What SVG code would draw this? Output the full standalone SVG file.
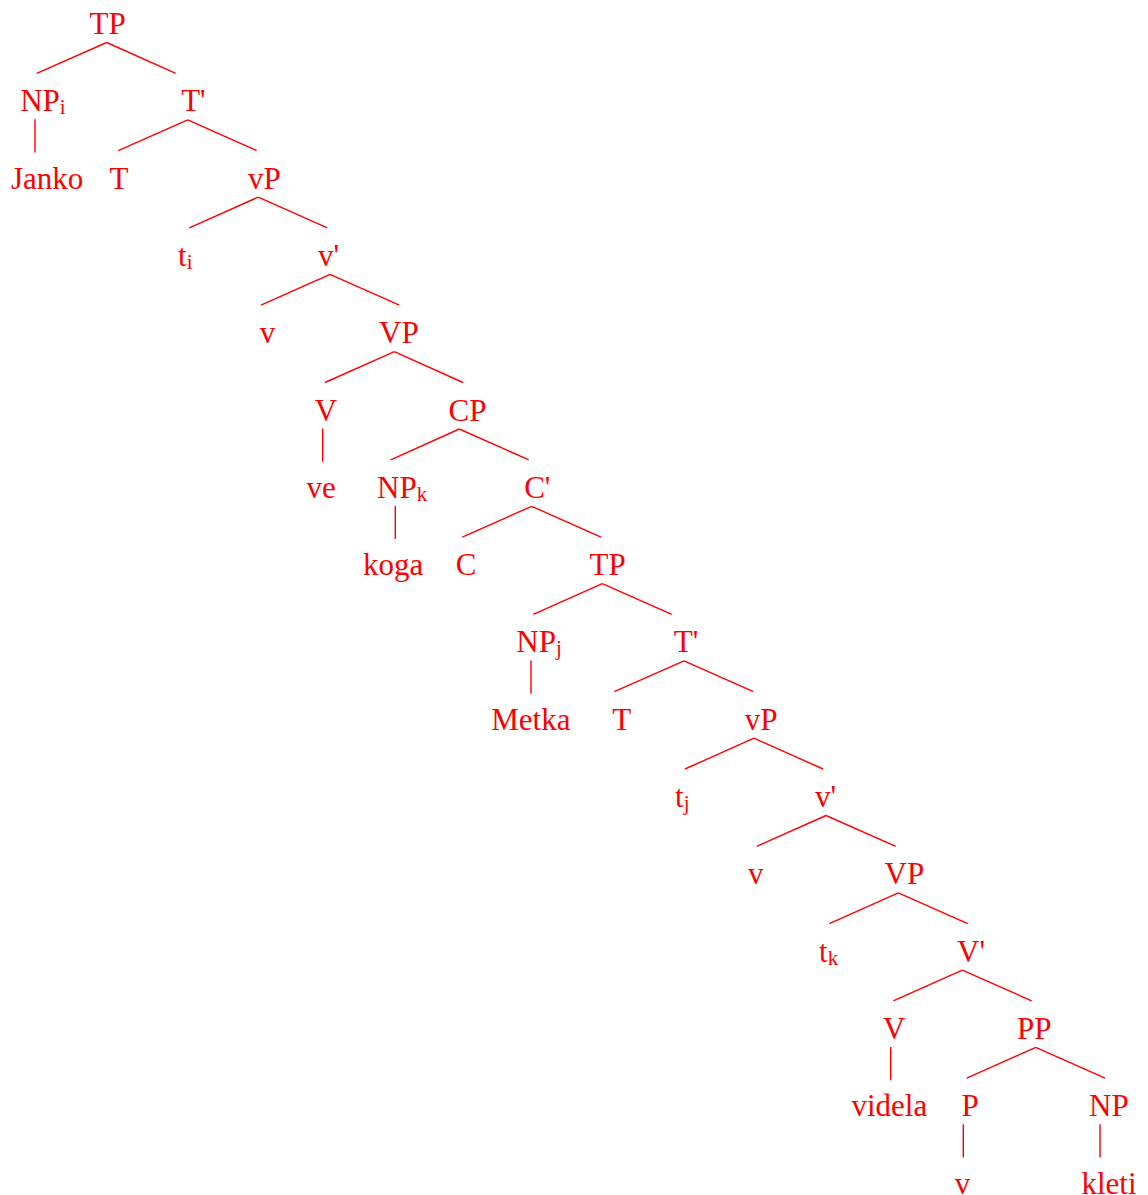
<svg xmlns="http://www.w3.org/2000/svg" width="1148" height="1195" viewBox="0 0 1148 1195">
<style>
text{font-family:"Liberation Serif","Times New Roman",serif;font-size:31px;fill:#ff0000}
.s{font-size:21px}
#edges line{stroke:#ff0000;stroke-width:1.4}
</style>
<rect width="1148" height="1195" fill="#ffffff"/>
<g id="edges">
<line x1="106.7" y1="42.5" x2="36.7" y2="73.3"/><line x1="106.7" y1="42.5" x2="175.7" y2="73.3"/>
<line x1="35" y1="119.3" x2="35" y2="152.6"/>
<line x1="187.7" y1="119.8" x2="118.3" y2="150.6"/><line x1="187.7" y1="119.8" x2="256.7" y2="150.6"/>
<line x1="258.3" y1="197.1" x2="189.3" y2="227.9"/><line x1="258.3" y1="197.1" x2="327.3" y2="227.9"/>
<line x1="330" y1="274.4" x2="261" y2="305.2"/><line x1="330" y1="274.4" x2="399.3" y2="305.2"/>
<line x1="394.3" y1="351.7" x2="325" y2="382.5"/><line x1="394.3" y1="351.7" x2="463" y2="382.5"/>
<line x1="322.7" y1="428.5" x2="322.7" y2="461.8"/>
<line x1="459.3" y1="429" x2="390.7" y2="459.8"/><line x1="459.3" y1="429" x2="528.7" y2="459.8"/>
<line x1="395.3" y1="505.8" x2="395.3" y2="539.1"/>
<line x1="531.7" y1="506.3" x2="462.3" y2="537.1"/><line x1="531.7" y1="506.3" x2="601" y2="537.1"/>
<line x1="602.3" y1="583.6" x2="533.3" y2="614.4"/><line x1="602.3" y1="583.6" x2="671.7" y2="614.4"/>
<line x1="531" y1="660.4" x2="531" y2="693.7"/>
<line x1="684" y1="660.9" x2="614.3" y2="691.7"/><line x1="684" y1="660.9" x2="753.3" y2="691.7"/>
<line x1="754" y1="738.2" x2="685" y2="769"/><line x1="754" y1="738.2" x2="823" y2="769"/>
<line x1="826" y1="815.5" x2="756.7" y2="846.3"/><line x1="826" y1="815.5" x2="895.7" y2="846.3"/>
<line x1="898.3" y1="892.8" x2="829.3" y2="923.6"/><line x1="898.3" y1="892.8" x2="967.7" y2="923.6"/>
<line x1="962.3" y1="970.1" x2="893.3" y2="1000.9"/><line x1="962.3" y1="970.1" x2="1031.7" y2="1000.9"/>
<line x1="890.7" y1="1046.9" x2="890.7" y2="1080.2"/>
<line x1="1035.7" y1="1047.4" x2="966.7" y2="1078.2"/><line x1="1035.7" y1="1047.4" x2="1105" y2="1078.2"/>
<line x1="963.3" y1="1124.2" x2="963.3" y2="1157.5"/>
<line x1="1100" y1="1124.2" x2="1100" y2="1157.5"/>
</g>
<g id="n-TP1"><text x="89.5" y="34">TP</text></g>
<g id="n-NPi"><text x="20.2" y="111.3">NP<tspan class="s" dy="3">i</tspan></text></g>
<g id="n-Tbar1"><text x="181.2" y="111.3">T'</text></g>
<g id="n-Janko"><text x="11" y="188.6">Janko</text></g>
<g id="n-T1"><text x="109.5" y="188.6">T</text></g>
<g id="n-vP1"><text x="248" y="188.6">vP</text></g>
<g id="n-ti"><text x="178" y="265.9">t<tspan class="s" dy="3">i</tspan></text></g>
<g id="n-vbar1"><text x="318" y="265.9">v'</text></g>
<g id="n-v1"><text x="259.7" y="343.2">v</text></g>
<g id="n-VP1"><text x="379" y="343.2">VP</text></g>
<g id="n-V1"><text x="314.7" y="420.5">V</text></g>
<g id="n-CP"><text x="448.5" y="420.5">CP</text></g>
<g id="n-ve"><text x="306.4" y="497.8">ve</text></g>
<g id="n-NPk"><text x="377" y="497.8">NP<tspan class="s" dy="3">k</tspan></text></g>
<g id="n-Cbar"><text x="524.2" y="497.8">C'</text></g>
<g id="n-koga"><text x="363" y="575.1">koga</text></g>
<g id="n-C"><text x="455.8" y="575.1">C</text></g>
<g id="n-TP2"><text x="589.5" y="575.1">TP</text></g>
<g id="n-NPj"><text x="516.3" y="652.4">NP<tspan class="s" dy="3">j</tspan></text></g>
<g id="n-Tbar2"><text x="673.8" y="652.4">T'</text></g>
<g id="n-Metka"><text x="491.3" y="729.7">Metka</text></g>
<g id="n-T2"><text x="612.2" y="729.7">T</text></g>
<g id="n-vP2"><text x="744.7" y="729.7">vP</text></g>
<g id="n-tj"><text x="675" y="807">t<tspan class="s" dy="3">j</tspan></text></g>
<g id="n-vbar2"><text x="815" y="807">v'</text></g>
<g id="n-v2"><text x="748" y="884.3">v</text></g>
<g id="n-VP2"><text x="884.6" y="884.3">VP</text></g>
<g id="n-tk"><text x="819" y="961.6">t<tspan class="s" dy="3">k</tspan></text></g>
<g id="n-Vbar"><text x="957" y="961.6">V'</text></g>
<g id="n-V2"><text x="883" y="1038.9">V</text></g>
<g id="n-PP"><text x="1017" y="1038.9">PP</text></g>
<g id="n-videla"><text x="851.5" y="1116.2">videla</text></g>
<g id="n-P"><text x="961.4" y="1116.2">P</text></g>
<g id="n-NP"><text x="1089" y="1116.2">NP</text></g>
<g id="n-v3"><text x="954.8" y="1193.5">v</text></g>
<g id="n-kleti"><text x="1081.5" y="1193.5">kleti</text></g>
</svg>
